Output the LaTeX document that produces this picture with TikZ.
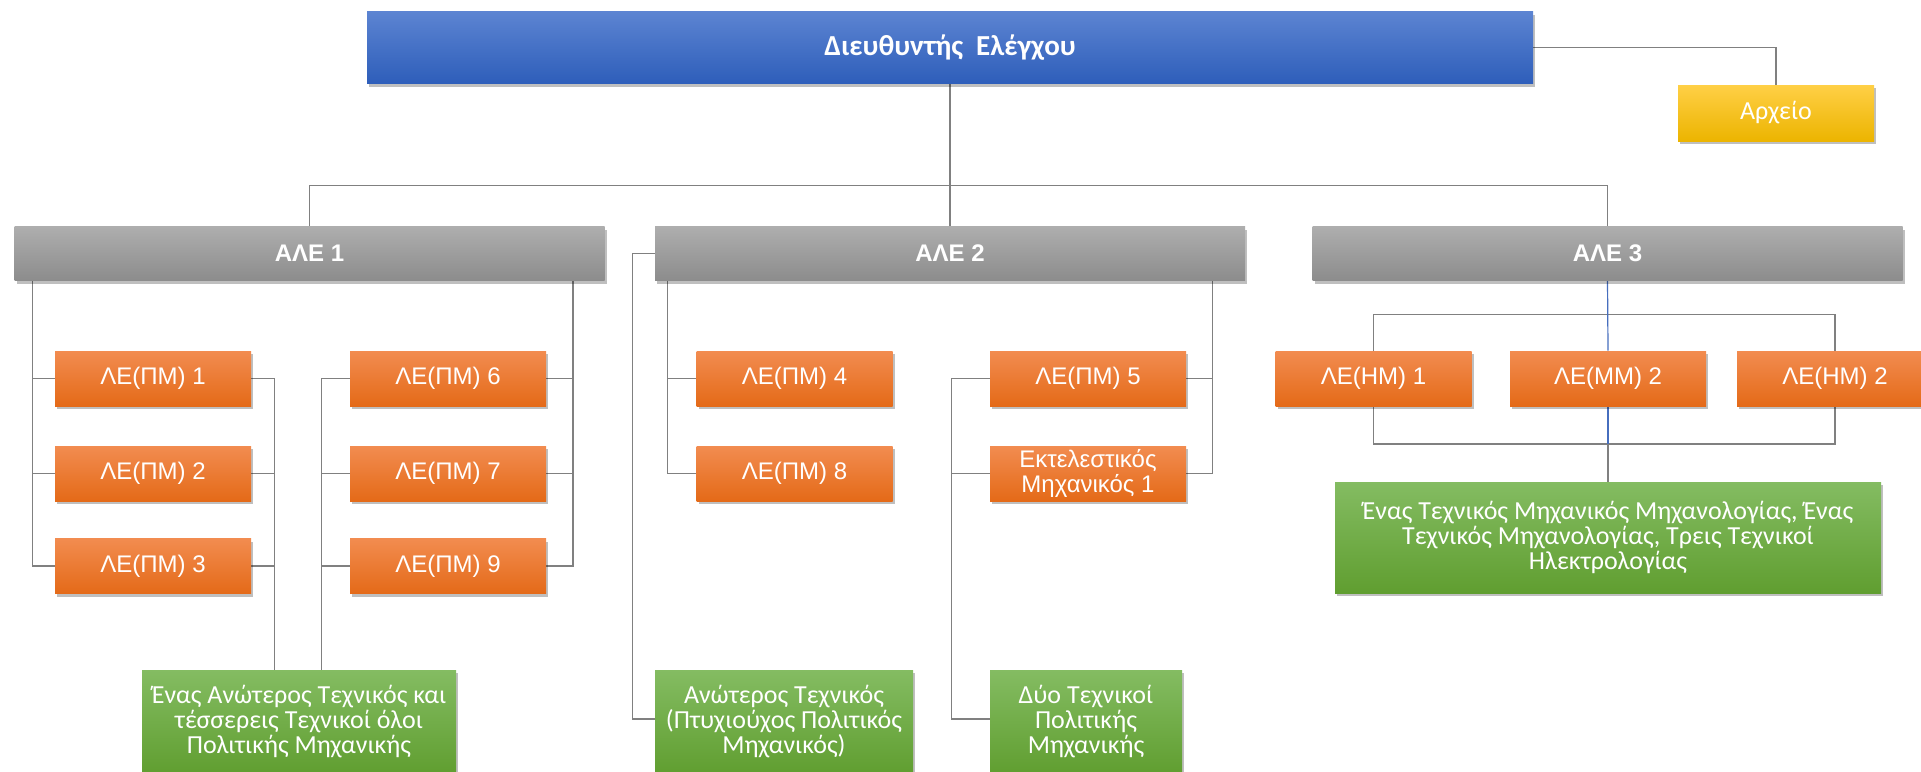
\documentclass[tikz,border=0pt]{standalone}
\usepackage{fontspec}
\setmainfont{Liberation Sans}
\newfontfamily\calfont{Carlito}
\usetikzlibrary{shadows,backgrounds,calc}
\definecolor{lncol}{RGB}{128,128,128}
\definecolor{blncol}{RGB}{70,110,190}
\definecolor{blueT}{RGB}{92,132,210}
\definecolor{blueB}{RGB}{46,94,186}
\definecolor{yelT}{RGB}{255,208,70}
\definecolor{yelB}{RGB}{236,180,0}
\definecolor{gryT}{RGB}{174,174,174}
\definecolor{gryB}{RGB}{140,140,140}
\definecolor{orgT}{RGB}{242,140,80}
\definecolor{orgB}{RGB}{228,106,24}
\definecolor{grnT}{RGB}{132,188,98}
\definecolor{grnB}{RGB}{96,158,48}
\tikzset{
  box/.style={draw=none, inner sep=0pt, text=white, align=center,
    drop shadow={shadow xshift=1.2pt, shadow yshift=-1.6pt, opacity=0.25, fill=black}},
  bluebox/.style={box, top color=blueT, bottom color=blueB, minimum width=583pt, minimum height=36pt,
    font=\calfont\bfseries\fontsize{14.5}{16}\selectfont},
  yelbox/.style={box, top color=yelT, bottom color=yelB, minimum width=98pt, minimum height=28pt,
    font=\calfont\fontsize{13}{15}\selectfont},
  grybox/.style={box, top color=gryT, bottom color=gryB, minimum width=295pt, minimum height=27pt,
    font=\bfseries\fontsize{12}{14}\selectfont},
  orgbox/.style={box, top color=orgT, bottom color=orgB, minimum width=98pt, minimum height=27.5pt,
    font=\fontsize{12}{10.5}\selectfont},
  grnbox/.style={box, top color=grnT, bottom color=grnB, minimum height=52pt,
    font=\calfont\fontsize{13}{12.5}\selectfont},
  ln/.style={draw=lncol, line width=0.6pt},
  bln/.style={draw=blncol, line width=0.6pt}
}
\begin{document}
\begin{tikzpicture}[x=0.5pt,y=-0.5pt]
\useasboundingbox (0,0) rectangle (1921,771);

% top level
\node[bluebox] (dir) at (950,47.5) {Διευθυντής~~Ελέγχου};
\node[yelbox] (arx) at (1776,113) {Αρχείο};

% ALE level
\node[grybox] (ale1) at (309.5,253.5) {ΑΛΕ 1};
\node[grybox] (ale2) at (950,253.5) {ΑΛΕ 2};
\node[grybox] (ale3) at (1607.5,253.5) {ΑΛΕ 3};

% ALE 1 units
\node[orgbox] (pm1) at (153,378.5) {ΛΕ(ΠΜ) 1};
\node[orgbox] (pm2) at (153,473.5) {ΛΕ(ΠΜ) 2};
\node[orgbox] (pm3) at (153,566) {ΛΕ(ΠΜ) 3};
\node[orgbox] (pm6) at (448,378.5) {ΛΕ(ΠΜ) 6};
\node[orgbox] (pm7) at (448,473.5) {ΛΕ(ΠΜ) 7};
\node[orgbox] (pm9) at (448,566) {ΛΕ(ΠΜ) 9};

% ALE 2 units
\node[orgbox] (pm4) at (794.5,378.5) {ΛΕ(ΠΜ) 4};
\node[orgbox] (pm8) at (794.5,473.5) {ΛΕ(ΠΜ) 8};
\node[orgbox] (pm5) at (1088,378.5) {ΛΕ(ΠΜ) 5};
\node[orgbox] (ekt) at (1088,473.5) {Εκτελεστικός\\Μηχανικός 1};

% ALE 3 units
\node[orgbox] (hm1) at (1373.5,378.5) {ΛΕ(ΗΜ) 1};
\node[orgbox] (mm2) at (1608,378.5) {ΛΕ(ΜΜ) 2};
\node[orgbox] (hm2) at (1835,378.5) {ΛΕ(ΗΜ) 2};

% staff boxes
\node[grnbox, minimum width=157pt] (g1) at (299,722)
  {Ένας Ανώτερος Τεχνικός και\\τέσσερεις Τεχνικοί όλοι\\Πολιτικής Μηχανικής};
\node[grnbox, minimum width=129pt] (g2) at (784,722)
  {Ανώτερος Τεχνικός\\(Πτυχιούχος Πολιτικός\\Μηχανικός)};
\node[grnbox, minimum width=96pt] (g3) at (1086,722)
  {Δύο Τεχνικοί\\Πολιτικής\\Μηχανικής};
\node[grnbox, minimum width=273pt, minimum height=55.5pt] (g4) at (1608,537.5)
  {Ένας Τεχνικός Μηχανικός Μηχανολογίας, Ένας\\Τεχνικός Μηχανολογίας, Τρεις Τεχνικοί\\Ηλεκτρολογίας};

\begin{scope}[on background layer]
  \fill[white] (0,0) rectangle (1921,771);
  % top connectors
  \draw[ln] (dir.east) -| (arx.north);
  \draw[ln] (dir.south) -- (ale2.north);
  \draw[ln] (ale1.north) -- ++(0,-40.5) -| (ale3.north);

  % ALE 1
  \coordinate (a1l) at ([xshift=9pt]ale1.south west);
  \coordinate (a1r) at ([xshift=-16pt]ale1.south east);
  \draw[ln] (a1l) |- (pm3.west);
  \draw[ln] (pm1.west) -- (pm1.west -| a1l);
  \draw[ln] (pm2.west) -- (pm2.west -| a1l);
  \draw[ln] (a1r) |- (pm9.east);
  \draw[ln] (pm6.east) -- (pm6.east -| a1r);
  \draw[ln] (pm7.east) -- (pm7.east -| a1r);
  \coordinate (i1) at ([xshift=11.5pt]pm1.east);
  \coordinate (i2) at ([xshift=-14pt]pm6.west);
  \draw[ln] (pm1.east) -| (i1 |- g1.north);
  \draw[ln] (pm2.east) -- (pm2.east -| i1);
  \draw[ln] (pm3.east) -- (pm3.east -| i1);
  \draw[ln] (pm6.west) -| (i2 |- g1.north);
  \draw[ln] (pm7.west) -- (pm7.west -| i2);
  \draw[ln] (pm9.west) -- (pm9.west -| i2);

  % ALE 2
  \coordinate (g2w) at ([yshift=1.5pt]g2.west);
  \coordinate (g3w) at ([yshift=1.5pt]g3.west);
  \draw[ln] (ale2.west) -- ++(-22,0) |- (g2w);
  \coordinate (a2l) at ([xshift=6.5pt]ale2.south west);
  \coordinate (a2r) at ([xshift=-16.5pt]ale2.south east);
  \draw[ln] (a2l) |- (pm8.west);
  \draw[ln] (pm4.west) -- (pm4.west -| a2l);
  \draw[ln] (a2r) |- (ekt.east);
  \draw[ln] (pm5.east) -- (pm5.east -| a2r);
  \coordinate (i3) at ([xshift=-19pt]pm5.west);
  \draw[ln] (pm5.west) -| (i3 |- g3w) -- (g3w);
  \draw[ln] (ekt.west) -- (ekt.west -| i3);

  % ALE 3
  \draw[ln] (hm1.north) -- ++(0,-36.5) -| (hm2.north);
  \draw[ln] (hm1.south) -- ++(0,37.5) -| (hm2.south);
  \draw[ln] (mm2.south) ++(0,37.5) -- (g4.north);
  \draw[bln] (ale3.south) -- (mm2.north);
  \draw[bln] (mm2.south) -- ++(0,37.5);
\end{scope}
\end{tikzpicture}
\end{document}
